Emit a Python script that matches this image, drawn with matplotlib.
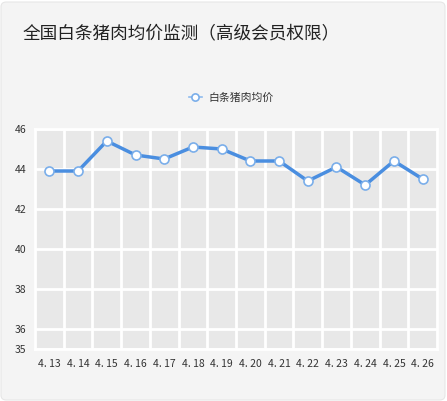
import matplotlib.pyplot as plt
from matplotlib.patches import FancyBboxPatch

plt.rcParams['font.family'] = ['Noto Sans CJK SC', 'DejaVu Sans']

dates = ['4. 13', '4. 14', '4. 15', '4. 16', '4. 17', '4. 18', '4. 19',
         '4. 20', '4. 21', '4. 22', '4. 23', '4. 24', '4. 25', '4. 26']
prices = [43.9, 43.9, 45.4, 44.7, 44.5, 45.1, 45.0,
          44.4, 44.4, 43.4, 44.1, 43.2, 44.4, 43.5]
yticks = [35, 36, 38, 40, 42, 44, 46]

W, H = 447, 401
fig = plt.figure(figsize=(W / 100, H / 100), dpi=100, facecolor='white')

# rounded panel background
panel = FancyBboxPatch((1 / W, 1 / H), 1 - 3 / W, 1 - 3 / H,
                       boxstyle='round,pad=0,rounding_size=0.012',
                       transform=fig.transFigure, facecolor='#f4f4f4',
                       edgecolor='#e6e6e6', linewidth=0.8, zorder=-10)
fig.patches.append(panel)

ax = fig.add_axes([35 / W, 1 - 349 / H, 402 / W, 220 / H])
ax.set_facecolor('#e8e8e8')

x = list(range(len(dates)))
ax.plot(x, prices, color='#4a8ee0', linewidth=2.5, marker='o', markersize=6.5,
        markerfacecolor='white', markeredgecolor='#7aaeea', markeredgewidth=1.2,
        label='白条猪肉均价', zorder=3)

ax.set_xlim(-0.5, len(dates) - 0.5)
ax.set_ylim(35, 46)
ax.set_xticks(x)
ax.set_xticklabels(dates)
ax.set_xticks([i + 0.5 for i in x[:-1]], minor=True)
ax.set_yticks(yticks)

ax.grid(True, which='major', axis='y', color='white', linewidth=2)
ax.grid(True, which='minor', axis='x', color='white', linewidth=2)
ax.set_axisbelow(True)
for s in ax.spines.values():
    s.set_color('white')
    s.set_linewidth(2)

ax.tick_params(axis='both', which='both', length=0, labelsize=7.5,
               colors='#333333')
ax.tick_params(axis='x', pad=7)
ax.tick_params(axis='y', pad=6)

fig.text(23 / W, 1 - 33 / H, '全国白条猪肉均价监测（高级会员权限）',
         fontsize=12.7, color='#222222', va='center', ha='left')

leg = fig.legend(loc='center', bbox_to_anchor=(231 / W, 1 - 98 / H),
                 frameon=False, fontsize=7.8, handlelength=1.2,
                 handletextpad=0.6, markerscale=0.8)
for t in leg.get_texts():
    t.set_color('#333333')
leg_line = leg.get_lines()[0]
leg_line.set_linewidth(1.2)
leg_line.set_color('#8fbbee')

fig.savefig('out.png', dpi=100, facecolor=fig.get_facecolor())
